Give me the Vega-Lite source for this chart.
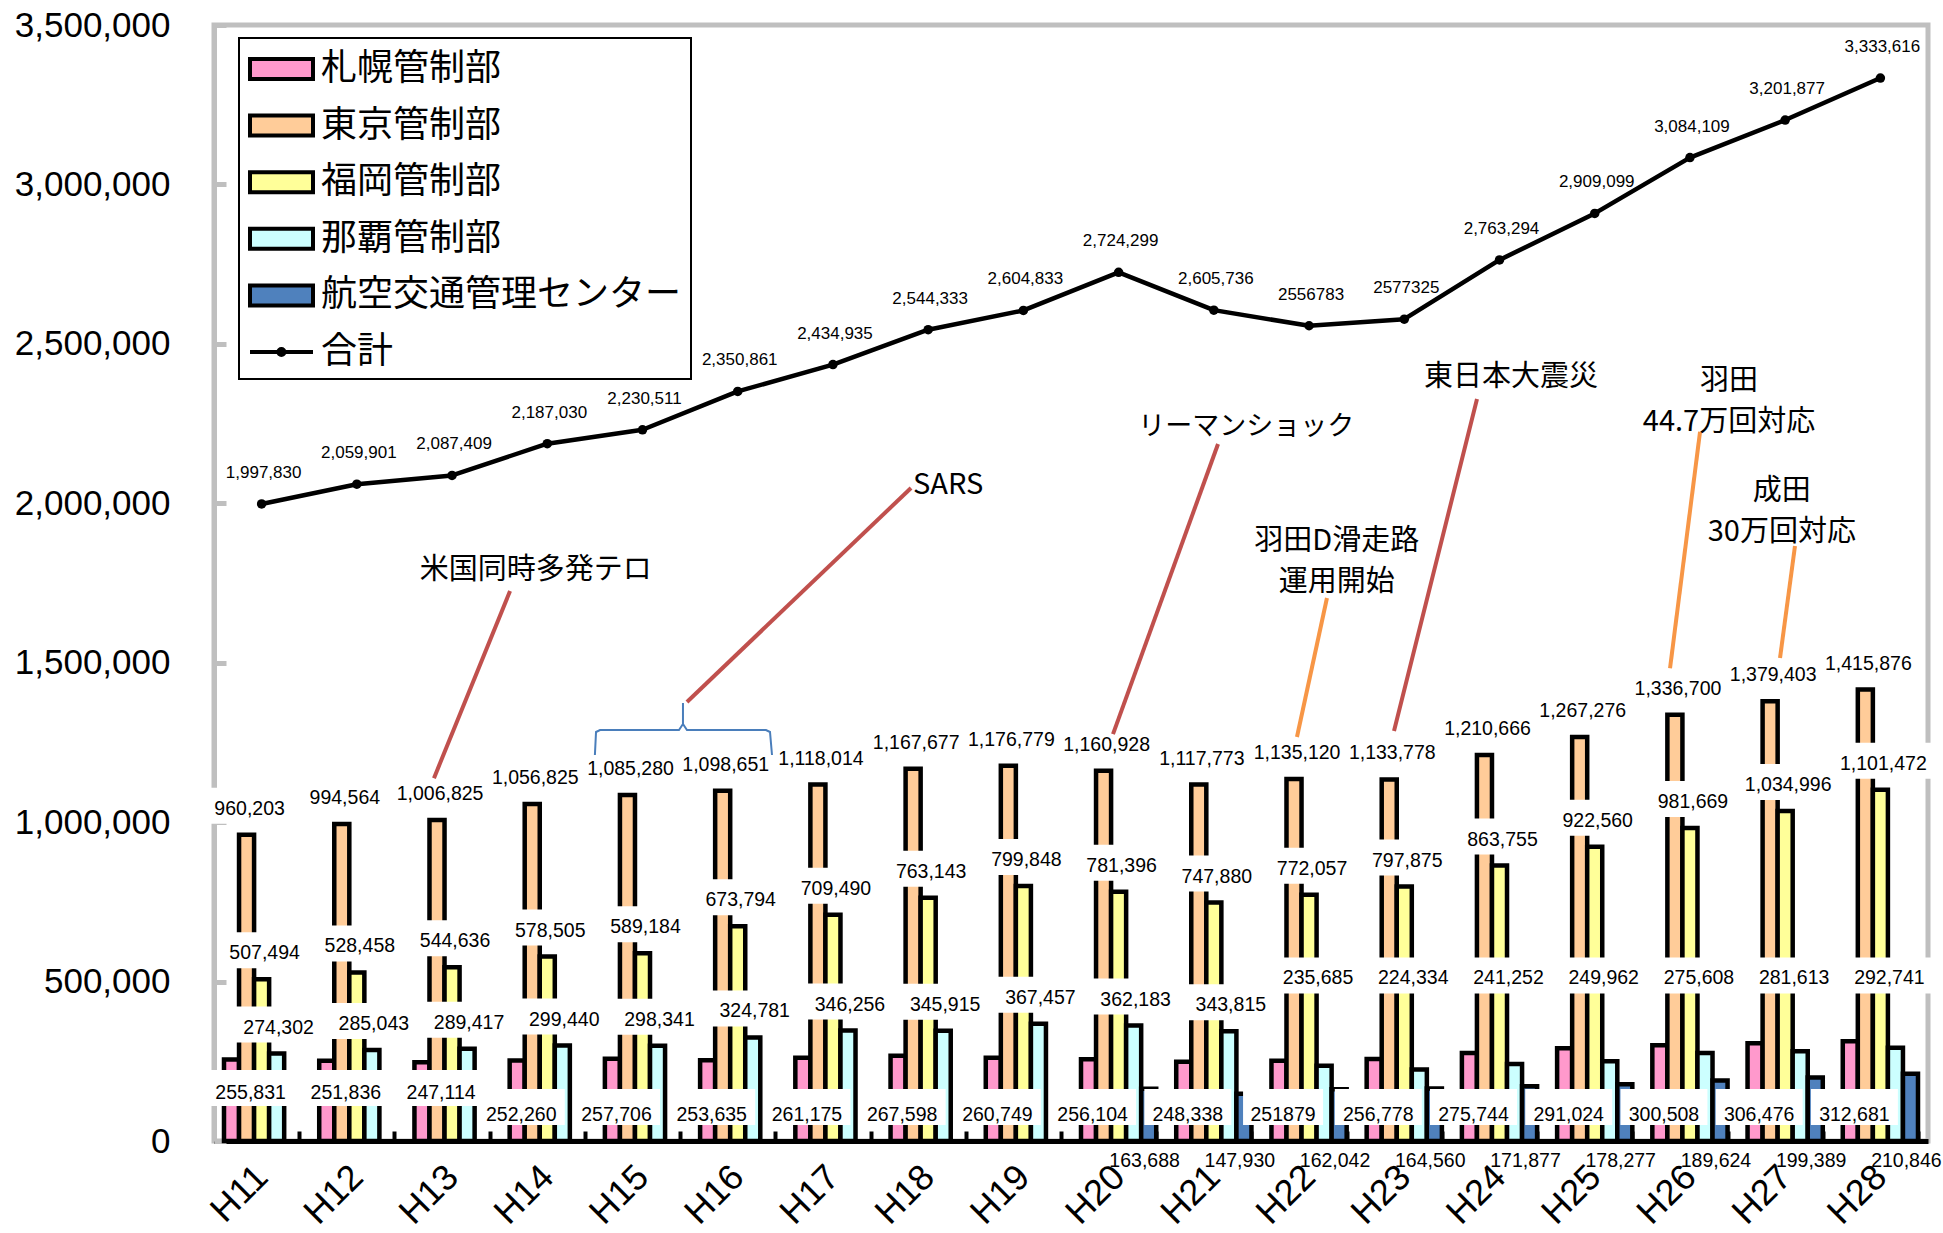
{
  "$schema": "https://vega.github.io/schema/vega-lite/v6.json",
  "width": 1714,
  "height": 1116,
  "autosize": {"type": "none"},
  "padding": {"left": 214, "top": 25, "right": 15, "bottom": 92},
  "background": "white",
  "config": {
    "view": {"stroke": "#bfbfbf", "strokeWidth": 5},
    "font": "Liberation Sans"
  },
  "datasets": {
    "bars": [
      {"year": "H11", "series": "札幌管制部", "value": 255831, "label": "255,831"},
      {"year": "H11", "series": "東京管制部", "value": 960203, "label": "960,203"},
      {"year": "H11", "series": "福岡管制部", "value": 507494, "label": "507,494"},
      {"year": "H11", "series": "那覇管制部", "value": 274302, "label": "274,302"},
      {"year": "H12", "series": "札幌管制部", "value": 251836, "label": "251,836"},
      {"year": "H12", "series": "東京管制部", "value": 994564, "label": "994,564"},
      {"year": "H12", "series": "福岡管制部", "value": 528458, "label": "528,458"},
      {"year": "H12", "series": "那覇管制部", "value": 285043, "label": "285,043"},
      {"year": "H13", "series": "札幌管制部", "value": 247114, "label": "247,114"},
      {"year": "H13", "series": "東京管制部", "value": 1006825, "label": "1,006,825"},
      {"year": "H13", "series": "福岡管制部", "value": 544636, "label": "544,636"},
      {"year": "H13", "series": "那覇管制部", "value": 289417, "label": "289,417"},
      {"year": "H14", "series": "札幌管制部", "value": 252260, "label": "252,260"},
      {"year": "H14", "series": "東京管制部", "value": 1056825, "label": "1,056,825"},
      {"year": "H14", "series": "福岡管制部", "value": 578505, "label": "578,505"},
      {"year": "H14", "series": "那覇管制部", "value": 299440, "label": "299,440"},
      {"year": "H15", "series": "札幌管制部", "value": 257706, "label": "257,706"},
      {"year": "H15", "series": "東京管制部", "value": 1085280, "label": "1,085,280"},
      {"year": "H15", "series": "福岡管制部", "value": 589184, "label": "589,184"},
      {"year": "H15", "series": "那覇管制部", "value": 298341, "label": "298,341"},
      {"year": "H16", "series": "札幌管制部", "value": 253635, "label": "253,635"},
      {"year": "H16", "series": "東京管制部", "value": 1098651, "label": "1,098,651"},
      {"year": "H16", "series": "福岡管制部", "value": 673794, "label": "673,794"},
      {"year": "H16", "series": "那覇管制部", "value": 324781, "label": "324,781"},
      {"year": "H17", "series": "札幌管制部", "value": 261175, "label": "261,175"},
      {"year": "H17", "series": "東京管制部", "value": 1118014, "label": "1,118,014"},
      {"year": "H17", "series": "福岡管制部", "value": 709490, "label": "709,490"},
      {"year": "H17", "series": "那覇管制部", "value": 346256, "label": "346,256"},
      {"year": "H18", "series": "札幌管制部", "value": 267598, "label": "267,598"},
      {"year": "H18", "series": "東京管制部", "value": 1167677, "label": "1,167,677"},
      {"year": "H18", "series": "福岡管制部", "value": 763143, "label": "763,143"},
      {"year": "H18", "series": "那覇管制部", "value": 345915, "label": "345,915"},
      {"year": "H19", "series": "札幌管制部", "value": 260749, "label": "260,749"},
      {"year": "H19", "series": "東京管制部", "value": 1176779, "label": "1,176,779"},
      {"year": "H19", "series": "福岡管制部", "value": 799848, "label": "799,848"},
      {"year": "H19", "series": "那覇管制部", "value": 367457, "label": "367,457"},
      {"year": "H20", "series": "札幌管制部", "value": 256104, "label": "256,104"},
      {"year": "H20", "series": "東京管制部", "value": 1160928, "label": "1,160,928"},
      {"year": "H20", "series": "福岡管制部", "value": 781396, "label": "781,396"},
      {"year": "H20", "series": "那覇管制部", "value": 362183, "label": "362,183"},
      {"year": "H20", "series": "航空交通管理センター", "value": 163688, "label": "163,688"},
      {"year": "H21", "series": "札幌管制部", "value": 248338, "label": "248,338"},
      {"year": "H21", "series": "東京管制部", "value": 1117773, "label": "1,117,773"},
      {"year": "H21", "series": "福岡管制部", "value": 747880, "label": "747,880"},
      {"year": "H21", "series": "那覇管制部", "value": 343815, "label": "343,815"},
      {"year": "H21", "series": "航空交通管理センター", "value": 147930, "label": "147,930"},
      {"year": "H22", "series": "札幌管制部", "value": 251879, "label": "251879"},
      {"year": "H22", "series": "東京管制部", "value": 1135120, "label": "1,135,120"},
      {"year": "H22", "series": "福岡管制部", "value": 772057, "label": "772,057"},
      {"year": "H22", "series": "那覇管制部", "value": 235685, "label": "235,685"},
      {"year": "H22", "series": "航空交通管理センター", "value": 162042, "label": "162,042"},
      {"year": "H23", "series": "札幌管制部", "value": 256778, "label": "256,778"},
      {"year": "H23", "series": "東京管制部", "value": 1133778, "label": "1,133,778"},
      {"year": "H23", "series": "福岡管制部", "value": 797875, "label": "797,875"},
      {"year": "H23", "series": "那覇管制部", "value": 224334, "label": "224,334"},
      {"year": "H23", "series": "航空交通管理センター", "value": 164560, "label": "164,560"},
      {"year": "H24", "series": "札幌管制部", "value": 275744, "label": "275,744"},
      {"year": "H24", "series": "東京管制部", "value": 1210666, "label": "1,210,666"},
      {"year": "H24", "series": "福岡管制部", "value": 863755, "label": "863,755"},
      {"year": "H24", "series": "那覇管制部", "value": 241252, "label": "241,252"},
      {"year": "H24", "series": "航空交通管理センター", "value": 171877, "label": "171,877"},
      {"year": "H25", "series": "札幌管制部", "value": 291024, "label": "291,024"},
      {"year": "H25", "series": "東京管制部", "value": 1267276, "label": "1,267,276"},
      {"year": "H25", "series": "福岡管制部", "value": 922560, "label": "922,560"},
      {"year": "H25", "series": "那覇管制部", "value": 249962, "label": "249,962"},
      {"year": "H25", "series": "航空交通管理センター", "value": 178277, "label": "178,277"},
      {"year": "H26", "series": "札幌管制部", "value": 300508, "label": "300,508"},
      {"year": "H26", "series": "東京管制部", "value": 1336700, "label": "1,336,700"},
      {"year": "H26", "series": "福岡管制部", "value": 981669, "label": "981,669"},
      {"year": "H26", "series": "那覇管制部", "value": 275608, "label": "275,608"},
      {"year": "H26", "series": "航空交通管理センター", "value": 189624, "label": "189,624"},
      {"year": "H27", "series": "札幌管制部", "value": 306476, "label": "306,476"},
      {"year": "H27", "series": "東京管制部", "value": 1379403, "label": "1,379,403"},
      {"year": "H27", "series": "福岡管制部", "value": 1034996, "label": "1,034,996"},
      {"year": "H27", "series": "那覇管制部", "value": 281613, "label": "281,613"},
      {"year": "H27", "series": "航空交通管理センター", "value": 199389, "label": "199,389"},
      {"year": "H28", "series": "札幌管制部", "value": 312681, "label": "312,681"},
      {"year": "H28", "series": "東京管制部", "value": 1415876, "label": "1,415,876"},
      {"year": "H28", "series": "福岡管制部", "value": 1101472, "label": "1,101,472"},
      {"year": "H28", "series": "那覇管制部", "value": 292741, "label": "292,741"},
      {"year": "H28", "series": "航空交通管理センター", "value": 210846, "label": "210,846"}
    ],
    "totals": [
      {"year": "H11", "total": 1997830, "label": "1,997,830"},
      {"year": "H12", "total": 2059901, "label": "2,059,901"},
      {"year": "H13", "total": 2087409, "label": "2,087,409"},
      {"year": "H14", "total": 2187030, "label": "2,187,030"},
      {"year": "H15", "total": 2230511, "label": "2,230,511"},
      {"year": "H16", "total": 2350861, "label": "2,350,861"},
      {"year": "H17", "total": 2434935, "label": "2,434,935"},
      {"year": "H18", "total": 2544333, "label": "2,544,333"},
      {"year": "H19", "total": 2604833, "label": "2,604,833"},
      {"year": "H20", "total": 2724299, "label": "2,724,299"},
      {"year": "H21", "total": 2605736, "label": "2,605,736"},
      {"year": "H22", "total": 2556783, "label": "2556783"},
      {"year": "H23", "total": 2577325, "label": "2577325"},
      {"year": "H24", "total": 2763294, "label": "2,763,294"},
      {"year": "H25", "total": 2909099, "label": "2,909,099"},
      {"year": "H26", "total": 3084109, "label": "3,084,109"},
      {"year": "H27", "total": 3201877, "label": "3,201,877"},
      {"year": "H28", "total": 3333616, "label": "3,333,616"}
    ],
    "annText": [
      {"x": 3.38, "y": 1790000, "text": ["米国同時多発テロ"]},
      {"x": 7.71, "y": 2057000, "text": ["SARS"]},
      {"x": 10.84, "y": 2239000, "text": ["リーマンショック"]},
      {"x": 13.62, "y": 2396000, "text": ["東日本大震災"]},
      {"x": 11.79, "y": 1881000, "text": ["羽田D滑走路", "運用開始"]},
      {"x": 15.91, "y": 2383000, "text": ["羽田", "44.7万回対応"]},
      {"x": 16.465, "y": 2038000, "text": ["成田", "30万回対応"]}
    ],
    "annLines": [
      {"kind": "event", "x": 3.109, "y": 1725000, "x2": 2.31, "y2": 1138000},
      {"kind": "event", "x": 7.32, "y": 2048000, "x2": 4.967, "y2": 1377000},
      {"kind": "event", "x": 10.544, "y": 2186000, "x2": 9.441, "y2": 1276000},
      {"kind": "event", "x": 13.264, "y": 2327000, "x2": 12.392, "y2": 1286000},
      {"kind": "airport", "x": 11.688, "y": 1703000, "x2": 11.373, "y2": 1267000},
      {"kind": "airport", "x": 15.606, "y": 2224000, "x2": 15.291, "y2": 1483000},
      {"kind": "airport", "x": 16.603, "y": 1866000, "x2": 16.446, "y2": 1515000}
    ],
    "brace": [
      {"i": 1, "x": 4.0, "y": 1210600},
      {"i": 2, "x": 4.012, "y": 1282700},
      {"i": 3, "x": 4.054, "y": 1289000},
      {"i": 4, "x": 4.883, "y": 1289000},
      {"i": 5, "x": 4.925, "y": 1307800},
      {"i": 6, "x": 4.925, "y": 1373700},
      {"i": 7, "x": 4.925, "y": 1307800},
      {"i": 8, "x": 4.967, "y": 1289000},
      {"i": 9, "x": 5.797, "y": 1289000},
      {"i": 10, "x": 5.839, "y": 1282700},
      {"i": 11, "x": 5.86, "y": 1210600}
    ]
  },
  "layer": [
    {
      "layer": [
        {
          "data": {"name": "bars"},
          "mark": {"type": "bar", "stroke": "black", "strokeWidth": 4.5, "strokeJoin": "miter"},
          "encoding": {
            "x": {
              "field": "year", "type": "nominal", "title": null,
              "scale": {"domain": ["H11","H12","H13","H14","H15","H16","H17","H18","H19","H20","H21","H22","H23","H24","H25","H26","H27","H28"], "paddingInner": 0.21, "paddingOuter": 0.105},
              "axis": {"labelAngle": -45, "labelAlign": "right", "labelBaseline": "middle", "labelFontSize": 36, "labelFont": "Liberation Sans", "labelColor": "black", "labelPadding": 40, "domainColor": "black", "domainWidth": 5, "tickBand": "extent", "tickColor": "black", "tickSize": -10, "tickWidth": 4}
            },
            "xOffset": {"field": "series", "type": "nominal", "scale": {"domain": ["札幌管制部","東京管制部","福岡管制部","那覇管制部","航空交通管理センター"], "paddingInner": 0}},
            "y": {
              "field": "value", "type": "quantitative", "title": null,
              "scale": {"domain": [0, 3500000], "nice": false},
              "axis": {"values": [0,500000,1000000,1500000,2000000,2500000,3000000,3500000], "labelExpr": "format(datum.value, ',')", "labelFontSize": 35, "labelFont": "Liberation Sans", "labelColor": "black", "labelPadding": 56, "domainColor": "#bfbfbf", "domainWidth": 5, "tickColor": "#bfbfbf", "tickWidth": 5, "tickSize": -12, "grid": false}
            },
            "color": {
              "field": "series", "type": "nominal",
              "scale": {"domain": ["札幌管制部","東京管制部","福岡管制部","那覇管制部","航空交通管理センター","合計"], "range": ["#ff99cc","#ffcc99","#ffff99","#ccffff","#4f81bd","#000000"]},
              "legend": {
                "orient": "none", "legendX": 25, "legendY": 13, "title": null,
                "padding": 9, "strokeColor": "black", "fillColor": "white",
                "values": ["札幌管制部","東京管制部","福岡管制部","那覇管制部","航空交通管理センター","合計"],
                "symbolSize": 1600, "symbolStrokeColor": "black", "symbolStrokeWidth": 4,
                "labelFontSize": 36, "labelFont": "Noto Sans CJK JP", "labelLimit": 600, "labelColor": "black",
                "labelOffset": 29, "rowPadding": 16.6,
                "encoding": {
                  "legend": {"strokeWidth": {"value": 2}},
                  "symbols": {
                    "shape": {"value": {"expr": "datum.value === '合計' ? 'M-1,0L2.15,0M0.72,0A0.15,0.15,0,1,1,0.42,0A0.15,0.15,0,1,1,0.72,0Z' : 'M-1,-0.5L2.15,-0.5L2.15,0.5L-1,0.5Z'"}},
                    "fill": {"value": {"expr": "scale('color', datum.value)"}},
                    "stroke": {"value": "black"},
                    "strokeWidth": {"value": 4},
                    "opacity": {"value": 1}
                  }
                }
              }
            }
          }
        },
        {
          "data": {"name": "bars"},
          "transform": [{"filter": {"field": "series", "oneOf": ["東京管制部"]}}, {"calculate": "length(datum.label)", "as": "len"}],
          "encoding": {
            "x": {"field": "year", "type": "nominal", "title": null},
            "y": {"field": "value", "type": "quantitative", "title": null}
          },
          "layer": [
            {"mark": {"type": "point", "filled": true, "fill": "white", "opacity": 1, "strokeWidth": 0, "size": 10000, "xOffset": -12, "yOffset": -29},
             "encoding": {"shape": {"field": "len", "type": "ordinal", "scale": {"domain": [6,7,9], "range": ["M-0.8,-0.36L0.8,-0.36L0.8,0.36L-0.8,0.36Z","M-0.87,-0.36L0.87,-0.36L0.87,0.36L-0.87,0.36Z","M-1,-0.36L1,-0.36L1,0.36L-1,0.36Z"]}, "legend": null}}},
            {"mark": {"type": "text", "fontSize": 19.5, "font": "Liberation Sans", "color": "black", "baseline": "middle", "dx": -12, "dy": -26},
             "encoding": {"text": {"field": "label"}}}
          ]
        },
        {
          "data": {"name": "bars"},
          "transform": [{"filter": {"field": "series", "oneOf": ["福岡管制部"]}}, {"calculate": "length(datum.label)", "as": "len"}],
          "encoding": {
            "x": {"field": "year", "type": "nominal", "title": null},
            "y": {"field": "value", "type": "quantitative", "title": null}
          },
          "layer": [
            {"mark": {"type": "point", "filled": true, "fill": "white", "opacity": 1, "strokeWidth": 0, "size": 10000, "xOffset": 3, "yOffset": -29},
             "encoding": {"shape": {"field": "len", "type": "ordinal", "scale": {"domain": [6,7,9], "range": ["M-0.8,-0.36L0.8,-0.36L0.8,0.36L-0.8,0.36Z","M-0.87,-0.36L0.87,-0.36L0.87,0.36L-0.87,0.36Z","M-1,-0.36L1,-0.36L1,0.36L-1,0.36Z"]}, "legend": null}}},
            {"mark": {"type": "text", "fontSize": 19.5, "font": "Liberation Sans", "color": "black", "baseline": "middle", "dx": 3, "dy": -26},
             "encoding": {"text": {"field": "label"}}}
          ]
        },
        {
          "data": {"name": "bars"},
          "transform": [{"filter": {"field": "series", "oneOf": ["那覇管制部"]}}, {"filter": {"field": "year", "oneOf": ["H11","H12","H13","H14","H15","H16","H17","H18","H19","H20","H21"]}}, {"calculate": "length(datum.label)", "as": "len"}],
          "encoding": {
            "x": {"field": "year", "type": "nominal", "title": null},
            "y": {"field": "value", "type": "quantitative", "title": null}
          },
          "layer": [
            {"mark": {"type": "point", "filled": true, "fill": "white", "opacity": 1, "strokeWidth": 0, "size": 10000, "xOffset": 17, "yOffset": -29},
             "encoding": {"shape": {"field": "len", "type": "ordinal", "scale": {"domain": [6,7,9], "range": ["M-0.8,-0.36L0.8,-0.36L0.8,0.36L-0.8,0.36Z","M-0.87,-0.36L0.87,-0.36L0.87,0.36L-0.87,0.36Z","M-1,-0.36L1,-0.36L1,0.36L-1,0.36Z"]}, "legend": null}}},
            {"mark": {"type": "text", "fontSize": 19.5, "font": "Liberation Sans", "color": "black", "baseline": "middle", "dx": 17, "dy": -26},
             "encoding": {"text": {"field": "label"}}}
          ]
        },
        {
          "data": {"name": "bars"},
          "transform": [{"filter": {"field": "series", "oneOf": ["那覇管制部"]}}, {"filter": {"field": "year", "oneOf": ["H22","H23","H24","H25","H26","H27","H28"]}}, {"calculate": "length(datum.label)", "as": "len"}],
          "encoding": {
            "x": {"field": "year", "type": "nominal", "title": null},
            "y": {"datum": 510000, "type": "quantitative", "title": null}
          },
          "layer": [
            {"mark": {"type": "point", "filled": true, "fill": "white", "opacity": 1, "strokeWidth": 0, "size": 10000, "xOffset": 9, "yOffset": -3},
             "encoding": {"shape": {"field": "len", "type": "ordinal", "scale": {"domain": [6,7,9], "range": ["M-0.8,-0.36L0.8,-0.36L0.8,0.36L-0.8,0.36Z","M-0.87,-0.36L0.87,-0.36L0.87,0.36L-0.87,0.36Z","M-1,-0.36L1,-0.36L1,0.36L-1,0.36Z"]}, "legend": null}}},
            {"mark": {"type": "text", "fontSize": 19.5, "font": "Liberation Sans", "color": "black", "baseline": "middle", "dx": 9, "dy": 0},
             "encoding": {"text": {"field": "label"}}}
          ]
        },
        {
          "data": {"name": "bars"},
          "transform": [{"filter": {"field": "series", "oneOf": ["札幌管制部"]}}, {"filter": {"field": "year", "oneOf": ["H11","H12","H13"]}}, {"calculate": "length(datum.label)", "as": "len"}],
          "encoding": {
            "x": {"field": "year", "type": "nominal", "title": null},
            "y": {"datum": 0, "type": "quantitative", "title": null}
          },
          "layer": [
            {"mark": {"type": "point", "filled": true, "fill": "white", "opacity": 1, "strokeWidth": 0, "size": 10000, "xOffset": -11, "yOffset": -53},
             "encoding": {"shape": {"field": "len", "type": "ordinal", "scale": {"domain": [6,7,9], "range": ["M-0.8,-0.36L0.8,-0.36L0.8,0.36L-0.8,0.36Z","M-0.87,-0.36L0.87,-0.36L0.87,0.36L-0.87,0.36Z","M-1,-0.36L1,-0.36L1,0.36L-1,0.36Z"]}, "legend": null}}},
            {"mark": {"type": "text", "fontSize": 19.5, "font": "Liberation Sans", "color": "black", "baseline": "middle", "dx": -11, "dy": -48},
             "encoding": {"text": {"field": "label"}}}
          ]
        },
        {
          "data": {"name": "bars"},
          "transform": [{"filter": {"field": "series", "oneOf": ["札幌管制部"]}}, {"filter": {"field": "year", "oneOf": ["H14","H15","H16","H17","H18","H19","H20","H21","H22","H23","H24","H25","H26","H27","H28"]}}, {"calculate": "length(datum.label)", "as": "len"}],
          "encoding": {
            "x": {"field": "year", "type": "nominal", "title": null},
            "y": {"datum": 0, "type": "quantitative", "title": null}
          },
          "layer": [
            {"mark": {"type": "point", "filled": true, "fill": "white", "opacity": 1, "strokeWidth": 0, "size": 10000, "xOffset": -26, "yOffset": -34},
             "encoding": {"shape": {"field": "len", "type": "ordinal", "scale": {"domain": [6,7,9], "range": ["M-0.8,-0.36L0.8,-0.36L0.8,0.36L-0.8,0.36Z","M-0.87,-0.36L0.87,-0.36L0.87,0.36L-0.87,0.36Z","M-1,-0.36L1,-0.36L1,0.36L-1,0.36Z"]}, "legend": null}}},
            {"mark": {"type": "text", "fontSize": 19.5, "font": "Liberation Sans", "color": "black", "baseline": "middle", "dx": -26, "dy": -26},
             "encoding": {"text": {"field": "label"}}}
          ]
        },
        {
          "data": {"name": "bars"},
          "transform": [{"filter": {"field": "series", "oneOf": ["航空交通管理センター"]}}],
          "mark": {"type": "text", "fontSize": 19.5, "font": "Liberation Sans", "color": "black", "baseline": "middle", "dx": 26, "dy": 20},
          "encoding": {
            "x": {"field": "year", "type": "nominal", "title": null},
            "y": {"datum": 0, "type": "quantitative", "title": null},
            "text": {"field": "label"}
          }
        },
        {
          "data": {"name": "totals"},
          "mark": {"type": "line", "strokeWidth": 4.5, "strokeJoin": "round", "color": "black"},
          "encoding": {
            "x": {"field": "year", "type": "nominal", "title": null},
            "y": {"field": "total", "type": "quantitative", "title": null}
          }
        },
        {
          "data": {"name": "totals"},
          "mark": {"type": "point", "filled": true, "fill": "black", "opacity": 1, "size": 90, "strokeWidth": 0},
          "encoding": {
            "x": {"field": "year", "type": "nominal", "title": null},
            "y": {"field": "total", "type": "quantitative", "title": null}
          }
        },
        {
          "data": {"name": "totals"},
          "mark": {"type": "text", "fontSize": 17, "font": "Liberation Sans", "color": "black", "baseline": "middle", "dx": 2, "dy": -31},
          "encoding": {
            "x": {"field": "year", "type": "nominal", "title": null},
            "y": {"field": "total", "type": "quantitative", "title": null},
            "text": {"field": "label"}
          }
        }
      ]
    },
    {
      "layer": [
        {
          "data": {"name": "annLines"},
          "mark": {"type": "rule", "strokeWidth": 4, "strokeCap": "butt"},
          "encoding": {
            "x": {"field": "x", "type": "quantitative", "scale": {"domain": [0, 18], "nice": false, "zero": false}, "axis": null},
            "x2": {"field": "x2"},
            "y": {"field": "y", "type": "quantitative", "title": null},
            "y2": {"field": "y2"},
            "stroke": {"field": "kind", "type": "nominal", "scale": {"domain": ["event", "airport"], "range": ["#c0504d", "#f79646"]}, "legend": null}
          }
        },
        {
          "data": {"name": "brace"},
          "mark": {"type": "line", "strokeWidth": 2, "color": "#4a7ebb"},
          "encoding": {
            "x": {"field": "x", "type": "quantitative", "axis": null},
            "y": {"field": "y", "type": "quantitative", "title": null},
            "order": {"field": "i", "type": "quantitative"}
          }
        },
        {
          "data": {"name": "annText"},
          "transform": [{"filter": "datum.text[0] !== 'リーマンショック'"}],
          "mark": {"type": "text", "font": "Noto Sans CJK JP", "fontSize": 29, "lineHeight": 41, "baseline": "middle", "align": "center", "color": "black"},
          "encoding": {
            "x": {"field": "x", "type": "quantitative", "axis": null},
            "y": {"field": "y", "type": "quantitative", "title": null},
            "text": {"field": "text"}
          }
        },
        {
          "data": {"name": "annText"},
          "transform": [{"filter": "datum.text[0] === 'リーマンショック'"}],
          "mark": {"type": "text", "font": "Noto Sans CJK JP", "fontSize": 27, "baseline": "middle", "align": "center", "color": "black"},
          "encoding": {
            "x": {"field": "x", "type": "quantitative", "axis": null},
            "y": {"field": "y", "type": "quantitative", "title": null},
            "text": {"field": "text"}
          }
        }
      ]
    }
  ],
  "resolve": {"scale": {"x": "independent"}}
}
